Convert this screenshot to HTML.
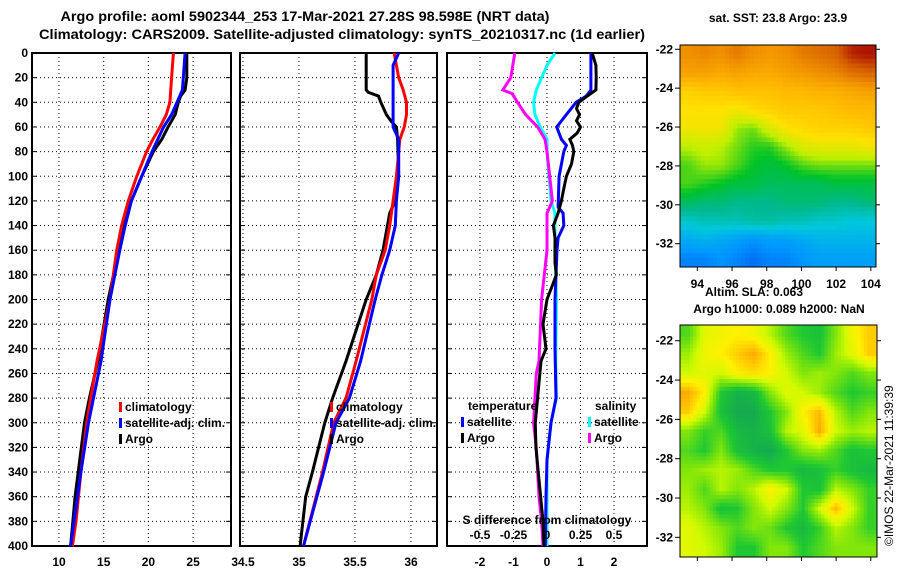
<!DOCTYPE html>
<html><head><meta charset="utf-8"><style>
html,body{margin:0;padding:0;background:#fff;}
svg{display:block;font-family:"Liberation Sans",Arial,sans-serif;font-weight:bold;}
</style></head><body>
<svg id="fig" width="900" height="580" viewBox="0 0 900 580">
<text x="305" y="21" text-anchor="middle" font-size="13.5" textLength="489" lengthAdjust="spacingAndGlyphs">Argo profile: aoml 5902344_253 17-Mar-2021 27.28S 98.598E (NRT data)</text>
<text x="342" y="39" text-anchor="middle" font-size="13.5" textLength="606" lengthAdjust="spacingAndGlyphs">Climatology: CARS2009. Satellite-adjusted climatology: synTS_20210317.nc (1d earlier)</text>
<g id="g"></g>
</svg>
<script>
// ---- profile data (depth in m) ----
const tClimDepth=[0,20,40,50,60,70,80,100,120,140,160,200,250,280,300,340,380,400];
const tClimVals=[22.8,22.6,22.4,22.0,21.3,20.5,19.8,18.7,17.75,17.0,16.45,15.7,14.25,13.55,13.1,12.45,11.9,11.5];
const tSatDepth=[0,20,30,40,50,60,80,100,120,140,160,200,250,300,340,400];
const tSatVals=[24.1,23.9,23.8,23.2,22.6,21.7,20.4,19.25,18.1,17.4,16.8,15.7,14.7,13.3,12.45,11.3];
const tArgoDepth=[0,20,30,35,40,50,60,70,80,100,120,130,140,160,180,200,250,280,300,340,360,400];
const tArgoVals=[24.3,24.3,24.1,23.6,23.35,23.0,22.2,21.5,20.55,19.25,18.1,17.4,17.3,16.6,16.1,15.5,14.35,13.4,12.85,12.15,11.8,11.3];

const sClimDepth=[0,10,20,30,40,50,60,70,80,100,120,140,160,180,200,250,280,300,340,400];
const sClimVals=[35.85,35.87,35.89,35.93,35.96,35.96,35.94,35.9,35.89,35.87,35.84,35.81,35.77,35.69,35.65,35.51,35.42,35.31,35.21,35.04];
const sSatDepth=[0,10,20,60,70,100,120,140,160,180,200,250,280,300,340,400];
const sSatVals=[35.89,35.84,35.84,35.84,35.89,35.89,35.87,35.86,35.81,35.74,35.68,35.55,35.45,35.33,35.22,35.04];
const sArgoDepth=[0,30,32,35,40,50,55,60,70,100,120,130,160,180,200,250,280,300,340,360,400];
const sArgoVals=[35.6,35.6,35.62,35.71,35.73,35.78,35.82,35.87,35.88,35.89,35.86,35.81,35.75,35.69,35.6,35.42,35.3,35.23,35.12,35.06,35.01];

const dTSatDepth=[0,30,35,40,50,60,70,75,80,100,125,130,140,150,160,200,240,280,300,330,360,400];
const dTSatVals=[1.31,1.31,1.17,0.87,0.58,0.29,0.43,0.58,0.5,0.36,0.33,0.48,0.5,0.33,0.3,0.24,0.24,0.27,0.12,0,-0.03,-0.05];
const dTArgoDepth=[0,10,20,30,35,40,45,50,55,60,65,70,75,80,90,100,110,120,130,140,150,170,180,200,220,240,250,300,320,380,400];
const dTArgoVals=[1.35,1.46,1.47,1.46,1.2,0.95,0.88,0.97,0.88,1.0,0.9,0.68,0.76,0.8,0.73,0.58,0.5,0.43,0.33,0.19,0.24,0.24,0.28,0.0,-0.12,-0.03,-0.18,-0.35,-0.33,-0.12,-0.09];
const dSSatDepth=[0,10,20,30,40,50,60,70,80,100,120,130,160,200,250,280,300,330,400];
const dSSatVals=[0.06,0,-0.04,-0.08,-0.1,-0.09,-0.05,0,0,0.015,0.03,0.06,0.06,0.07,0.065,0.07,0.03,0,0];
const dSArgoDepth=[0,20,30,33,40,50,60,70,80,100,120,130,160,200,250,260,300,320,360,380,400];
const dSArgoVals=[-0.24,-0.27,-0.33,-0.26,-0.22,-0.16,-0.07,-0.015,0,0.02,0.04,0,0,-0.04,-0.06,-0.08,-0.1,-0.08,-0.06,-0.04,-0.03];

const depthTicks=[0,20,40,60,80,100,120,140,160,180,200,220,240,260,280,300,320,340,360,380,400];
const tTicks=[10,15,20,25];
const sTicks=[34.5,35,35.5,36];
const dTTicks=[-2,-1,0,1,2];
const dSTickLabels=["-0.5","-0.25","0","0.25","0.5"];
const dSTicks=[-0.5,-0.25,0,0.25,0.5];

// ---- map data ----
const sstLats=[-22,-23,-24,-25,-26,-27,-28,-29,-30,-31,-32,-33];
const sstValues=[
[25.0,25.1,25.0,25.2,25.0,24.9,25.0,25.2,25.3,25.4,25.8,25.9],
[24.8,24.8,24.7,24.8,24.7,24.7,24.8,24.9,25.0,25.1,25.3,25.4],
[24.2,24.3,24.3,24.4,24.4,24.4,24.5,24.5,24.6,24.6,24.7,24.8],
[24.0,24.0,24.0,23.9,24.1,24.2,24.3,24.3,24.3,24.4,24.5,24.5],
[23.9,23.9,23.9,23.4,23.3,23.7,24.0,24.1,24.2,24.2,24.2,24.3],
[23.5,23.6,23.5,23.3,23.1,23.1,23.4,23.7,23.8,23.8,23.8,23.9],
[23.2,23.4,23.4,23.2,23.0,22.9,23.0,23.2,23.3,23.3,23.3,23.3],
[23.2,23.1,23.0,22.9,22.9,22.8,22.8,22.8,22.8,22.9,22.9,22.9],
[22.8,22.7,22.7,22.6,22.6,22.6,22.7,22.7,22.7,22.6,22.6,22.7],
[22.3,22.4,22.4,22.4,22.5,22.5,22.4,22.4,22.3,22.3,22.2,22.2],
[21.9,22.0,21.9,21.8,21.7,21.8,21.8,21.9,22.0,22.0,22.0,22.0],
[21.6,21.6,21.7,21.6,21.5,21.6,21.6,21.7,21.8,21.8,21.8,21.8]];
const slaValues=[
[0,0.06,0.07,0.08,0.07,0.04,0.0,-0.02,-0.03,0.02,0.07,0.1],
[0.03,0.07,0.08,0.1,0.12,0.08,0.03,0,-0.02,0.03,0.06,0.1],
[0.05,0.06,0.05,0.08,0.09,0.08,0.05,0.02,0.03,0.02,0,0.02],
[0.12,0.08,-0.02,-0.05,-0.04,0.02,0.06,0.05,0.03,0,-0.02,-0.01],
[0.1,0.05,-0.03,-0.06,-0.06,-0.02,0.02,0.08,0.11,0.04,0.0,0.02],
[0.02,-0.01,0.0,-0.04,-0.05,-0.03,0.04,0.06,0.12,0.05,0.03,0.04],
[0.0,-0.02,0.02,-0.03,-0.05,-0.06,-0.02,0.02,0.03,0.0,-0.03,-0.02],
[0.02,0.03,0.04,0.03,0.0,-0.02,-0.02,-0.04,-0.03,-0.01,-0.03,-0.04],
[0.03,0.0,0.04,0.02,0.04,0.08,0.05,-0.02,-0.03,0.04,0.02,-0.01],
[0.04,0.02,-0.03,-0.02,0.02,0.05,0.02,-0.02,0.05,0.11,0.05,-0.01],
[0.06,0.04,0.02,0.0,0.02,0.01,-0.02,-0.04,-0.01,0.04,0.02,-0.01],
[0.06,0.05,0.03,-0.02,-0.02,0.02,0.02,-0.02,0.0,0.02,0.02,0.02]];
const lonTicks=[94,96,98,100,102,104];
const latTicks=[-22,-24,-26,-28,-30,-32];

const NS="http://www.w3.org/2000/svg";
const G=document.getElementById('g');
function el(tag,attrs,parent){const e=document.createElementNS(NS,tag);for(const k in attrs)e.setAttribute(k,attrs[k]);(parent||G).appendChild(e);return e;}

const Y0=53,Y1=546;
const yD=d=>Y0+d*(Y1-Y0)/400;
const panels=[
 {x0:32,x1:231,fx:v=>59+(v-10)*8.94,ticks:tTicks,name:'temperature'},
 {x0:240,x1:437,fx:v=>355+(v-35.5)*112,ticks:sTicks,name:'salinity'},
 {x0:447,x1:647,fx:v=>547+v*33.5,ticks:dTTicks,name:'difference'}];
const fS=v=>547+v*134;

panels.forEach(p=>{
  depthTicks.forEach(d=>{if(d>0&&d<400){
    const l=el('line',{x1:p.x0,x2:p.x1,y1:yD(d),y2:yD(d),stroke:'#000','stroke-width':1,'stroke-dasharray':'1 3'});
    }});
  p.ticks.forEach((v,i)=>{const x=p.fx(v);
    const l=el('line',{x1:x,x2:x,y1:Y0,y2:Y1,stroke:'#000','stroke-width':1,'stroke-dasharray':'1 3'});
    
    const t=el('text',{x:x,y:566,'font-size':12,'text-anchor':'middle'});t.textContent=String(v);
    
  });
  const r=el('rect',{x:p.x0,y:Y0,width:p.x1-p.x0,height:Y1-Y0,fill:'none',stroke:'#000','stroke-width':2});
  
  depthTicks.forEach(d=>{
    el('line',{x1:p.x0,x2:p.x0+5,y1:yD(d),y2:yD(d),stroke:'#000','stroke-width':1});
    el('line',{x1:p.x1-5,x2:p.x1,y1:yD(d),y2:yD(d),stroke:'#000','stroke-width':1});
  });
});
depthTicks.forEach(d=>{const t=el('text',{x:28,y:yD(d)+4,'font-size':12,'text-anchor':'end'});t.textContent=String(d);
  });

function line(depths,vals,fx,color,name){
  const pts=depths.map((d,i)=>fx(vals[i]).toFixed(1)+','+yD(d).toFixed(1)).join(' ');
  const pl=el('polyline',{points:pts,fill:'none',stroke:color,'stroke-width':3,'stroke-linejoin':'miter'});
  
}
line(tArgoDepth,tArgoVals,panels[0].fx,'#000','temp-argo-line');
line(tClimDepth,tClimVals,panels[0].fx,'#ff0000','temp-climatology-line');
line(tSatDepth,tSatVals,panels[0].fx,'#0000ff','temp-satellite-line');
line(sArgoDepth,sArgoVals,panels[1].fx,'#000','sal-argo-line');
line(sClimDepth,sClimVals,panels[1].fx,'#ff0000','sal-climatology-line');
line(sSatDepth,sSatVals,panels[1].fx,'#0000ff','sal-satellite-line');
line(dSSatDepth,dSSatVals,fS,'#00ffff','sdiff-satellite-line');
line(dSArgoDepth,dSArgoVals,fS,'#ff00ff','sdiff-argo-line');
line(dTSatDepth,dTSatVals,panels[2].fx,'#0000ff','tdiff-satellite-line');
line(dTArgoDepth,dTArgoVals,panels[2].fx,'#000','tdiff-argo-line');

function legend(x,y,color,label,name){
  const m=el('rect',{x:x,y:y-9,width:3,height:10,fill:color});
  
  const t=el('text',{x:x+6,y:y,'font-size':12});t.textContent=label;
  
}
legend(119,411,'#ff0000','climatology','legend-t-climatology');
legend(119,427,'#0000ff','satellite-adj. clim.','legend-t-satellite');
legend(119,443,'#000','Argo','legend-t-argo');
legend(330,411,'#ff0000','climatology','legend-s-climatology');
legend(330,427,'#0000ff','satellite-adj. clim.','legend-s-satellite');
legend(330,443,'#000','Argo','legend-s-argo');
{const t=el('text',{x:468,y:410,'font-size':12});t.textContent='temperature';
 }
{const t=el('text',{x:595,y:410,'font-size':12});t.textContent='salinity';
 }
legend(461,426,'#0000ff','satellite','legend-dt-satellite');
legend(461,442,'#000','Argo','legend-dt-argo');
legend(588,426,'#00ffff','satellite','legend-ds-satellite');
legend(588,442,'#ff00ff','Argo','legend-ds-argo');
{const t=el('text',{x:547,y:524,'font-size':12,'text-anchor':'middle'});t.textContent='S difference from climatology';
 }
dSTicks.forEach((v,i)=>{const t=el('text',{x:fS(v),y:539,'font-size':12,'text-anchor':'middle'});t.textContent=dSTickLabels[i];
 });

// ---- maps ----
function lerpColor(stops,v){
  if(v<=stops[0][0])return stops[0][1];
  for(let i=1;i<stops.length;i++){if(v<=stops[i][0]){const a=stops[i-1],b=stops[i];const f=(v-a[0])/(b[0]-a[0]);
    const c=a[1].map((x,k)=>Math.round(x+(b[1][k]-x)*f));return c;}}
  return stops[stops.length-1][1];
}
const sstStops=[[21.2,[0,60,230]],[21.7,[0,150,255]],[22.2,[0,200,220]],[22.6,[0,185,140]],[23.0,[0,195,40]],[23.5,[190,240,0]],[24.0,[255,225,0]],[24.5,[255,185,0]],[25.0,[240,145,0]],[25.5,[210,90,0]],[26.0,[165,0,0]]];
const slaStops=[[-0.06,[20,170,80]],[-0.02,[30,200,50]],[0.02,[130,230,10]],[0.05,[210,250,0]],[0.08,[255,240,0]],[0.12,[255,170,0]],[0.15,[245,130,0]]];
const rgb=c=>'rgb('+c.join(',')+')';

const M1={x0:680,x1:876,y0:45,y1:267,lon0:93.0,lon1:104.3,lat0:-21.78,lat1:-33.2};
const cw=(M1.x1-M1.x0)/12,ch=(M1.y1-M1.y0)/12;
sstValues.forEach((row,r)=>row.forEach((v,c)=>{
  const sub=4;
  for(let a=0;a<sub;a++)for(let b=0;b<sub;b++){
    const rr=Math.max(0,Math.min(11,r+(a+0.5)/sub-0.5)), cc=Math.max(0,Math.min(11,c+(b+0.5)/sub-0.5));
    const r0=Math.floor(rr),r1=Math.min(11,r0+1),c0=Math.floor(cc),c1=Math.min(11,c0+1);
    const fr=rr-r0,fc=cc-c0;
    const val=(sstValues[r0][c0]*(1-fc)+sstValues[r0][c1]*fc)*(1-fr)+(sstValues[r1][c0]*(1-fc)+sstValues[r1][c1]*fc)*fr;
    const cell=el('rect',{x:(M1.x0+c*cw+b*cw/sub).toFixed(2),y:(M1.y0+r*ch+a*ch/sub).toFixed(2),width:(cw/sub+0.4).toFixed(2),height:(ch/sub+0.4).toFixed(2),fill:rgb(lerpColor(sstStops,val))});
    
  }
}));
const M2={x0:680,x1:877,y0:325,y1:557,lat0:-21.2,lat1:-33.0};
const sub2=5,cw2=(M2.x1-M2.x0)/12,ch2=(M2.y1-M2.y0)/12;
for(let r=0;r<12*sub2;r++)for(let c=0;c<12*sub2;c++){
  const rr=Math.max(0,Math.min(11,(r+0.5)/sub2-0.5)),cc=Math.max(0,Math.min(11,(c+0.5)/sub2-0.5));
  const r0=Math.floor(rr),r1=Math.min(11,r0+1),c0=Math.floor(cc),c1=Math.min(11,c0+1);
  const fr=rr-r0,fc=cc-c0;
  const val=(slaValues[r0][c0]*(1-fc)+slaValues[r0][c1]*fc)*(1-fr)+(slaValues[r1][c0]*(1-fc)+slaValues[r1][c1]*fc)*fr;
  const cell=el('rect',{x:(M2.x0+c*cw2/sub2).toFixed(2),y:(M2.y0+r*ch2/sub2).toFixed(2),width:(cw2/sub2+0.4).toFixed(2),height:(ch2/sub2+0.4).toFixed(2),fill:rgb(lerpColor(slaStops,val))});
  
}
[M1,M2].forEach((M,i)=>{
  const f=el('rect',{x:M.x0,y:M.y0,width:M.x1-M.x0,height:M.y1-M.y0,fill:'none',stroke:'#000','stroke-width':1});
  
  const ly=lat=>M.y0+(lat-M.lat0)/(M.lat1-M.lat0)*(M.y1-M.y0);
  latTicks.forEach(lat=>{const y=ly(lat);
    el('line',{x1:M.x0-5,x2:M.x0,y1:y,y2:y,stroke:'#000'});
    el('line',{x1:M.x1,x2:M.x1+4,y1:y,y2:y,stroke:'#000'});
    const t=el('text',{x:673,y:y+4,'font-size':12,'text-anchor':'end'});t.textContent=String(lat);
    });
  const lx=lon=>M1.x0+(lon-M1.lon0)/(M1.lon1-M1.lon0)*(M1.x1-M1.x0);
  lonTicks.forEach(lon=>{const x=lx(lon);
    el('line',{x1:x,x2:x,y1:M.y1,y2:M.y1+4,stroke:'#000'});
    if(i===0){const t=el('text',{x:x,y:288,'font-size':12,'text-anchor':'middle'});t.textContent=String(lon);
      }});
});
</script>
<svg style="position:absolute;left:0;top:0" width="900" height="580">
<text x="778" y="22" text-anchor="middle" font-size="12" font-weight="bold" font-family="Liberation Sans, sans-serif">sat. SST: 23.8 Argo: 23.9</text>
<text x="754" y="296" text-anchor="middle" font-size="12" font-weight="bold" font-family="Liberation Sans, sans-serif">Altim. SLA: 0.063</text>
<text x="779" y="313" text-anchor="middle" font-size="12" font-weight="bold" font-family="Liberation Sans, sans-serif">Argo h1000: 0.089 h2000: NaN</text>
<text x="0" y="0" transform="translate(893,546) rotate(-90)" font-size="12" style="font-weight:normal" font-family="Liberation Sans, sans-serif">©IMOS 22-Mar-2021 11:39:39</text>
</svg>
</body></html>
